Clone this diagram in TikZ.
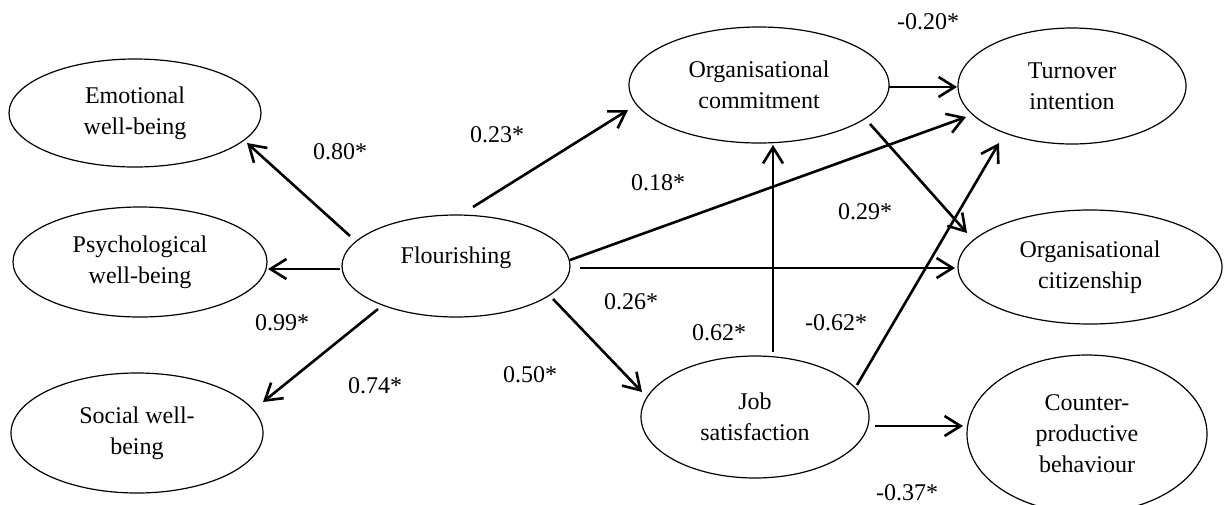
\documentclass[tikz,border=0pt]{standalone}
\usepackage{fontspec}
\setmainfont{Liberation Serif}
\usetikzlibrary{arrows.meta,shapes.geometric}
\begin{document}
\begin{tikzpicture}[x=0.5pt,y=-0.5pt,
  ell/.style={draw, line width=0.6pt, ellipse, inner sep=0pt, align=center,
              font=\fontsize{12pt}{15.5pt}\selectfont},
  arr/.style={line width=1.3pt, -{Straight Barb[length=8pt,width=10pt]}},
  lab/.style={font=\fontsize{12pt}{15.5pt}\selectfont, inner sep=0pt}]
\useasboundingbox (0,0) rectangle (1224,504);

% constructs
\node[ell, minimum width=126pt, minimum height=54pt] (emo) at (135,113) {Emotional\\well-being};
\node[ell, minimum width=127pt, minimum height=55pt] (psy) at (140,262) {Psychological\\well-being};
\node[ell, minimum width=126pt, minimum height=60pt] (soc) at (137,433) {Social well-\\being};
\node[ell, minimum width=114pt, minimum height=51pt] (flo) at (456,266) {\raisebox{1.5pt}[0pt][0pt]{Flourishing}};
\node[ell, minimum width=130pt, minimum height=58pt] (com) at (759,85) {Organisational\\commitment};
\node[ell, minimum width=114pt, minimum height=58pt] (tur) at (1072,86) {Turnover\\intention};
\node[ell, minimum width=132pt, minimum height=57pt] (cit) at (1090,267) {Organisational\\citizenship};
\node[ell, minimum width=114pt, minimum height=61pt] (job) at (755,417) {Job\\satisfaction};
\node[ell, minimum width=120pt, minimum height=79pt] (ctr) at (1087,434) {Counter-\\productive\\behaviour};

% paths
\draw[arr] ([shift={(-106,-30)}]flo.center) -- ([shift={(112,30)}]emo.center);
\draw[arr] ([shift={(-116,3)}]flo.center) -- ([shift={(128,7)}]psy.center);
\draw[arr] ([shift={(-78,43)}]flo.center) -- ([shift={(126,-31)}]soc.center);
\draw[arr] ([shift={(17,-59)}]flo.center) -- ([shift={(-131,25)}]com.center);
\draw[arr] ([shift={(114,-6)}]flo.center) -- ([shift={(-106,31)}]tur.center);
\draw[arr] ([shift={(124,2)}]flo.center) -- ([shift={(-135,1)}]cit.center);
\draw[arr] ([shift={(97,33)}]flo.center) -- ([shift={(-113,-25)}]job.center);
\draw[arr] ([shift={(130,2)}]com.center) -- ([shift={(-115,1)}]tur.center);
\draw[arr] ([shift={(111,39)}]com.center) -- ([shift={(-123,-34)}]cit.center);
\draw[arr] ([shift={(18,-65)}]job.center) -- ([shift={(14,60)}]com.center);
\draw[arr] ([shift={(102,-32)}]job.center) -- ([shift={(-73,57)}]tur.center);
\draw[arr] ([shift={(120,9)}]job.center) -- ([shift={(-124,-8)}]ctr.center);

% coefficients
\node[lab] (l80) at (340,152) {0.80*};
\node[lab] (l23) at (497,135) {0.23*};
\node[lab] (l18) at (658,183) {0.18*};
\node[lab] (l29) at (865,212) {0.29*};
\node[lab] (l20) at (928,22) {-0.20*};
\node[lab] (l99) at (282,323) {0.99*};
\node[lab] (l74) at (375,386) {0.74*};
\node[lab] (l26) at (631,302) {0.26*};
\node[lab] (l50) at (530,375) {0.50*};
\node[lab] (l62) at (719,333) {0.62*};
\node[lab] (lm62) at (836,323) {-0.62*};
\node[lab] (l37) at (907,493) {-0.37*};
\end{tikzpicture}
\end{document}
